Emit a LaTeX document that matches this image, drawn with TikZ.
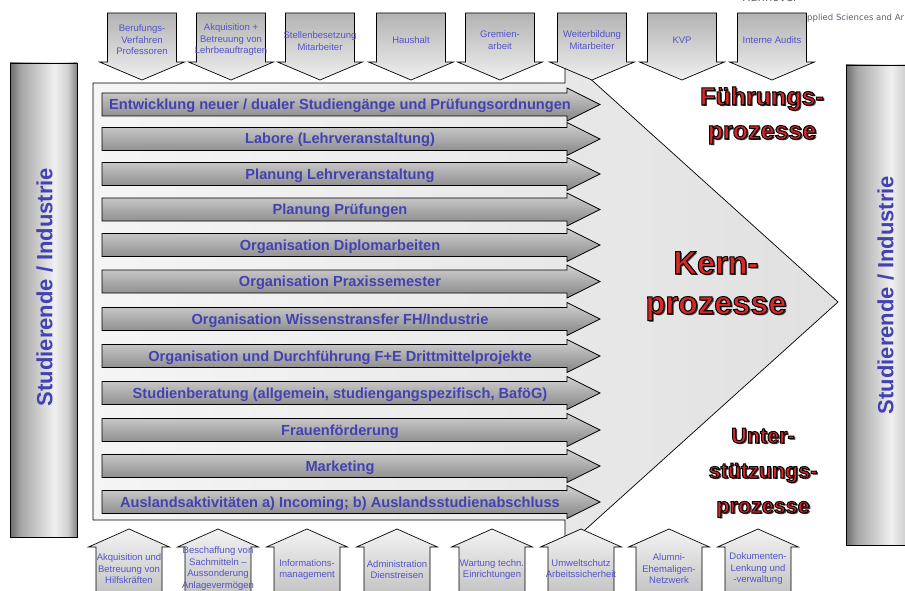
\documentclass[tikz,border=0pt]{standalone}
\usepackage{fontspec}
\setmainfont{Liberation Sans}
\newfontfamily\hdrfont{DejaVu Sans}
\definecolor{rowblue}{RGB}{66,66,178}
\definecolor{txtblue}{RGB}{84,84,200}
\definecolor{kred}{RGB}{218,40,40}
\definecolor{hdrgray}{RGB}{96,96,110}
\pgfdeclarehorizontalshading{cylshade}{100bp}{color(0bp)=(black!58); color(25bp)=(black!58); color(33bp)=(black!35); color(58bp)=(black!6); color(68bp)=(black!18); color(75bp)=(black!48); color(100bp)=(black!48)}
\newcommand\outlinedtext[1]{\leavevmode
 \rlap{\kern1.6pt\raisebox{-1.6pt}{\color{black!75}#1}}%
 {\color{kred}\special{pdf:literal direct 2 Tr 1.0 w 0 0 0 RG}#1\special{pdf:literal direct 0 Tr}}}
\begin{document}
\begin{tikzpicture}[x=1pt,y=-1pt,
  outl/.style={draw=black, line width=0.7pt, line join=miter},
  bigarrow/.style={outl, left color=black!4, right color=black!12},
  rowarrow/.style={outl, top color=black!18, bottom color=black!48},
  downarr/.style={outl, top color=black!30, bottom color=black!6},
  uparr/.style={outl, top color=black!5, bottom color=black!25},
  sidebar/.style={outl, shade, shading=cylshade},
  rowtxt/.style={font=\bfseries\fontsize{14.6}{17}\selectfont, text=rowblue, anchor=base, inner sep=0pt},
  smalltxt/.style={font=\fontsize{9.5}{11.5}\selectfont, text=txtblue, align=center, inner sep=0pt},
  sidetxt/.style={font=\bfseries\fontsize{22}{26}\selectfont, text=rowblue, rotate=90, inner sep=0pt},
  redtxt/.style={anchor=base, inner sep=0pt, font=\bfseries}
]
\useasboundingbox (0,0) rectangle (905,591);
\fill[white] (0,0) rectangle (905,591);

% side bars
\path[sidebar] (10,63) rectangle (77,537);
\path[sidebar] (846,65) rectangle (914,545);
\node[sidetxt] (leftlbl) at (44.5,287) {Studierende / Industrie};
\node[sidetxt] (rightlbl) at (885.5,295) {Studierende / Industrie};

% header remnants
\node[font=\hdrfont\fontsize{11.5}{13}\selectfont, text=hdrgray, anchor=base, inner sep=0pt] (hann) at (770,1.5) {Hannover};
\node[font=\hdrfont\fontsize{8.5}{10}\selectfont, text=hdrgray, anchor=base west, inner sep=0pt] (univ) at (807,21) {pplied Sciences and Ar};

% big core-process arrow
\path[bigarrow] (93,83) -- (565,83) -- (565,56) -- (838,302) -- (565,548) -- (565,520) -- (93,520) -- cycle;

% row arrows
\foreach \cy/\t [count=\i] in {
  104.5/{Entwicklung neuer / dualer Studiengänge und Prüfungsordnungen},
  139/{Labore (Lehrveranstaltung)},
  174/{Planung Lehrveranstaltung},
  209.5/{Planung Prüfungen},
  245/{Organisation Diplomarbeiten},
  281.5/{Organisation Praxissemester},
  319/{Organisation Wissenstransfer FH/Industrie},
  356/{Organisation und Durchführung F+E Drittmittelprojekte},
  393/{Studienberatung (allgemein, studiengangspezifisch, BaföG)},
  430/{Frauenförderung},
  466/{Marketing},
  502/{Auslandsaktivitäten a) Incoming; b) Auslandsstudienabschluss}} {
  \path[rowarrow] (102,{\cy-11.5}) -- (567,{\cy-11.5}) -- (567,{\cy-16.5}) -- (600,\cy)
     -- (567,{\cy+16.5}) -- (567,{\cy+11.5}) -- (102,{\cy+11.5}) -- cycle;
  \node[rowtxt] (row\i) at (340,{\cy+5}) {\t};
}

% top arrows (Führungsprozesse)
\foreach \c in {142,231,320,411,500,592,682,772} {
  \path[downarr] ({\c-34.5},13) -- ({\c+34.5},13) -- ({\c+34.5},62) -- ({\c+42.5},62)
     -- (\c,80) -- ({\c-42.5},62) -- ({\c-34.5},62) -- cycle;
}
\node[smalltxt] (top1) at (142,40) {Berufungs-\\Verfahren\\Professoren};
\node[smalltxt] (top2) at (231,40) {Akquisition +\\Betreuung von\\Lehrbeauftragten};
\node[smalltxt] (top3) at (320,41) {Stellenbesetzung\\Mitarbeiter};
\node[smalltxt] (top4) at (411,40) {Haushalt};
\node[smalltxt] (top5) at (500,40) {Gremien-\\arbeit};
\node[smalltxt] (top6) at (592,40) {Weiterbildung\\Mitarbeiter};
\node[smalltxt] (top7) at (682,40) {KVP};
\node[smalltxt] (top8) at (772,40) {Interne Audits};

% bottom arrows (Unterstützungsprozesse)
\foreach \c in {129,218,307,397,492,581,669,758} {
  \path[uparr] ({\c-33},600) -- ({\c-33},547) -- ({\c-40.5},547) -- (\c,529)
     -- ({\c+40.5},547) -- ({\c+33},547) -- ({\c+33},600) -- cycle;
}
\node[smalltxt] (bot1) at (129,569) {Akquisition und\\Betreuung von\\Hilfskräften};
\node[smalltxt] (bot2) at (218,568.5) {Beschaffung von\\Sachmitteln –\\Aussonderung\\Anlagevermögen};
\node[smalltxt] (bot3) at (307,569.5) {Informations-\\management};
\node[smalltxt] (bot4) at (397,569.5) {Administration\\Dienstreisen};
\node[smalltxt] (bot5) at (492,569.5) {Wartung techn.\\Einrichtungen};
\node[smalltxt] (bot6) at (581,568.5) {Umweltschutz\\Arbeitssicherheit};
\node[smalltxt] (bot7) at (669,569) {Alumni-\\Ehemaligen-\\Netzwerk};
\node[smalltxt] (bot8) at (758,569) {Dokumenten-\\Lenkung und\\-verwaltung};

% red category labels
\node[redtxt, font=\bfseries\fontsize{25}{30}\selectfont] (fa) at (762,105) {\outlinedtext{Führungs-}};
\node[redtxt, font=\bfseries\fontsize{25}{30}\selectfont] (fb) at (762,139) {\outlinedtext{prozesse}};
\node[redtxt, font=\bfseries\fontsize{32.5}{38}\selectfont] (ka) at (716,274) {\outlinedtext{Kern-}};
\node[redtxt, font=\bfseries\fontsize{32.5}{38}\selectfont] (kb) at (716,314) {\outlinedtext{prozesse}};
\node[redtxt, font=\bfseries\fontsize{21.5}{26}\selectfont] (ua) at (763,443) {\outlinedtext{Unter-}};
\node[redtxt, font=\bfseries\fontsize{21.5}{26}\selectfont] (ub) at (763,478) {\outlinedtext{stützungs-}};
\node[redtxt, font=\bfseries\fontsize{21.5}{26}\selectfont] (uc) at (763,513) {\outlinedtext{prozesse}};
\end{tikzpicture}
\end{document}
